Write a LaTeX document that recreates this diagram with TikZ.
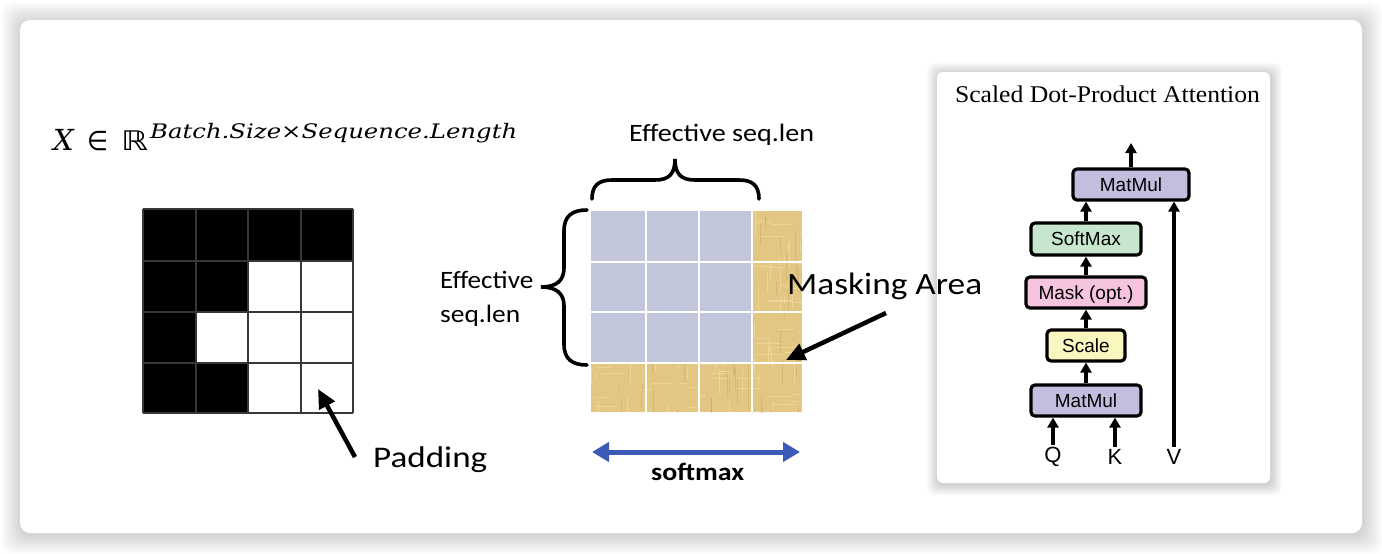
\documentclass[tikz,border=0pt]{standalone}
\usepackage{fontspec}
\usetikzlibrary{arrows.meta}
\newfontfamily\calib{Carlito}
\newfontfamily\helv{Liberation Sans}
\newfontfamily\tms{Liberation Serif}
\newfontfamily\dvs{DejaVu Serif}
\newfontfamily\dvsans{DejaVu Sans}
\newcommand\fitw[2]{\resizebox{#1}{\height}{#2}}
\definecolor{lav}{RGB}{196,190,222}
\definecolor{mint}{RGB}{200,230,205}
\definecolor{pinkb}{RGB}{246,196,222}
\definecolor{yelb}{RGB}{250,246,192}
\definecolor{cellblue}{RGB}{193,198,218}
\definecolor{tanc}{RGB}{226,198,130}
\definecolor{tanl}{RGB}{242,224,172}
\definecolor{tand}{RGB}{196,166,96}
\definecolor{arrblue}{RGB}{59,91,183}
\definecolor{gridg}{RGB}{55,55,55}
\begin{document}
\begin{tikzpicture}[x=1pt,y=-1pt,
  lbl/.style={inner sep=0pt, anchor=base west},
  box/.style={draw=black, line width=3.2pt, rounded corners=4pt, inner sep=0pt,
    font=\helv\fontsize{19}{21}\selectfont, text height=13.6pt, text depth=0pt},
  arr/.style={line width=3.2pt, -{Triangle[length=10pt,width=11pt]}},
  bigarr/.style={line width=4.5pt, -{Triangle[length=19pt,width=17pt]}},
  bluearr/.style={arrblue, line width=5pt, {Triangle[length=17pt,width=19pt]}-{Triangle[length=17pt,width=19pt]}},
  gline/.style={gridg, line width=2pt},
  brace/.style={line width=3.6pt, line cap=round}
]
\useasboundingbox (0,0) rectangle (1382,554);
\fill[white] (0,0) rectangle (1382,554);
% outer card shadow
\foreach \i in {1,...,14}
  \fill[black, opacity=0.013, rounded corners=12pt]
    ({20-\i*1.4+1},{20-\i*1.4+2}) rectangle ({1362+\i*1.4+1},{533+\i*1.4+2});
\fill[white, rounded corners=10pt] (20,20) rectangle (1362,533);

% ---------- right panel (card) ----------
\foreach \i in {1,...,9}
  \fill[black, opacity=0.02, rounded corners=8pt]
    ({937-\i*1.2+1},{72-\i*1.2+1.5}) rectangle ({1270+\i*1.2+1},{483+\i*1.2+1.5});
\fill[white, rounded corners=6pt] (937,72) rectangle (1270,483);

% ---------- left matrix ----------
\fill[black] (143,209) rectangle (353,261);
\fill[black] (143,261) rectangle (248,312);
\fill[black] (143,312) rectangle (196,362.5);
\fill[black] (143,362.5) rectangle (248,413);
\foreach \x in {143,196,248,301,353} \draw[gline] (\x,209) -- (\x,413);
\foreach \y in {209,261,312,362.5,413} \draw[gline] (143,\y) -- (353,\y);

\node[lbl] (xsym) at (53,150) {\fontsize{29}{31}\selectfont\dvs\itshape X};
\node[lbl] (insym) at (87,150) {\fitw{21pt}{\dvsans\fontsize{27}{29}\selectfont ∈}};
\node[lbl] (rsym) at (121,150) {\fitw{27pt}{\dvsans\fontsize{27}{29}\selectfont ℝ}};
\node[lbl] (supx) at (150,138) {\fitw{367pt}{\fontsize{20}{22}\selectfont\dvs\itshape Batch.Size×Sequence.Length}};

\node[lbl] (padding) at (373,467) {\fitw{114pt}{\calib\fontsize{30}{32}\selectfont Padding}};
\coordinate (padtail) at (355,457);
\coordinate (padtip) at (318,389);
\draw[bigarr] (padtail) -- (padtip);

% ---------- middle matrix ----------
\fill[tanc] (591,211) rectangle (802,412);
\begin{scope}
  \clip (591,211) rectangle (802,412);
  \pgfmathsetseed{11}
  \foreach \k in {1,...,110} {
    \pgfmathsetmacro\xa{591+rnd*211}
    \pgfmathsetmacro\ya{211+rnd*201}
    \pgfmathsetmacro\la{6+rnd*22}
    \draw[tanl, line width=0.8pt, opacity=0.6] (\xa,\ya) -- ++(0,\la);
    \pgfmathsetmacro\xb{591+rnd*211}
    \pgfmathsetmacro\yb{211+rnd*201}
    \draw[tand, line width=0.6pt, opacity=0.45] (\xb,\yb) -- ++(0,\la);
    \pgfmathsetmacro\xc{591+rnd*211}
    \pgfmathsetmacro\yc{211+rnd*201}
    \draw[tanl, line width=0.7pt, opacity=0.55] (\xc,\yc) -- ++(\la,0);
  }
\end{scope}
\fill[cellblue] (591,211) rectangle (751,362);
\foreach \x in {645.5,698.5,751.5} \draw[white, line width=2pt] (\x,211) -- (\x,412);
\foreach \y in {261.5,311.5,362.5} \draw[white, line width=2pt] (591,\y) -- (802,\y);

% top brace
\draw[brace] (592,199) .. controls (592,186) and (598,180) .. (612,180) -- (655,180)
  .. controls (669,180) and (675,174) .. (675,159)
  .. controls (675,174) and (681,180) .. (695,180) -- (739,180)
  .. controls (753,180) and (759,186) .. (759,199);
% left brace
\draw[brace] (587,210) .. controls (572,210) and (564,216) .. (564,231) -- (564,268)
  .. controls (564,281) and (556,287) .. (541,287)
  .. controls (556,287) and (564,293) .. (564,306) -- (564,344)
  .. controls (564,359) and (572,365) .. (587,365);

\node[lbl] (efftop) at (629,141) {\fitw{185pt}{\calib\fontsize{25}{27}\selectfont Effective seq.len}};
\node[lbl] (effl1) at (440,288) {\fitw{93pt}{\calib\fontsize{25}{27}\selectfont Effective}};
\node[lbl] (effl2) at (440,322) {\fitw{80pt}{\calib\fontsize{25}{27}\selectfont seq.len}};

\node[lbl] (masklbl) at (787,294) {\fitw{195pt}{\calib\fontsize{31}{33}\selectfont Masking Area}};
\coordinate (masktail) at (886,313);
\coordinate (masktip) at (786,360);
\draw[bigarr] (masktail) -- (masktip);

\coordinate (sl) at (592,452);
\coordinate (sr) at (800,452);
\draw[bluearr] (sl) -- (sr);
\node[lbl] (softlbl) at (651,480) {\fitw{93pt}{\calib\bfseries\fontsize{25}{27}\selectfont softmax}};

% ---------- right panel content ----------
\node[inner sep=0pt, anchor=base] (title) at (1107.5,102) {\fitw{305pt}{\tms\fontsize{24}{26}\selectfont Scaled Dot-Product Attention}};

\node[box, fill=lav,   minimum width=116pt, minimum height=31pt] (mm2)   at (1131,184.5) {MatMul};
\node[box, fill=mint,  minimum width=110pt, minimum height=32pt] (soft)  at (1086,239)   {SoftMax};
\node[box, fill=pinkb, minimum width=120pt, minimum height=31pt] (mask)  at (1086,292.5) {Mask (opt.)};
\node[box, fill=yelb,  minimum width=78pt,  minimum height=31pt] (scale) at (1086,345.5) {Scale};
\node[box, fill=lav,   minimum width=110pt, minimum height=31pt] (mm1)   at (1086,400.5) {MatMul};

\node[inner sep=2pt, font=\helv\fontsize{22}{24}\selectfont] (Q) at (1053,457) {Q};
\node[inner sep=2pt, font=\helv\fontsize{22}{24}\selectfont] (K) at (1115,457) {K};
\node[inner sep=2pt, font=\helv\fontsize{22}{24}\selectfont] (V) at (1174,457) {V};
\coordinate (out) at (1131,143);

\draw[arr] (mm1) -- (scale);
\draw[arr] (scale) -- (mask);
\draw[arr] (mask) -- (soft);
\draw[arr] (soft.north) -- (soft.north |- mm2.south);
\draw[arr] (mm2.north) -- (out);
\draw[arr] (Q.north) -- (Q.north |- mm1.south);
\draw[arr] (K.north) -- (K.north |- mm1.south);
\draw[arr] (V.north) -- (V.north |- mm2.south);
\end{tikzpicture}
\end{document}
